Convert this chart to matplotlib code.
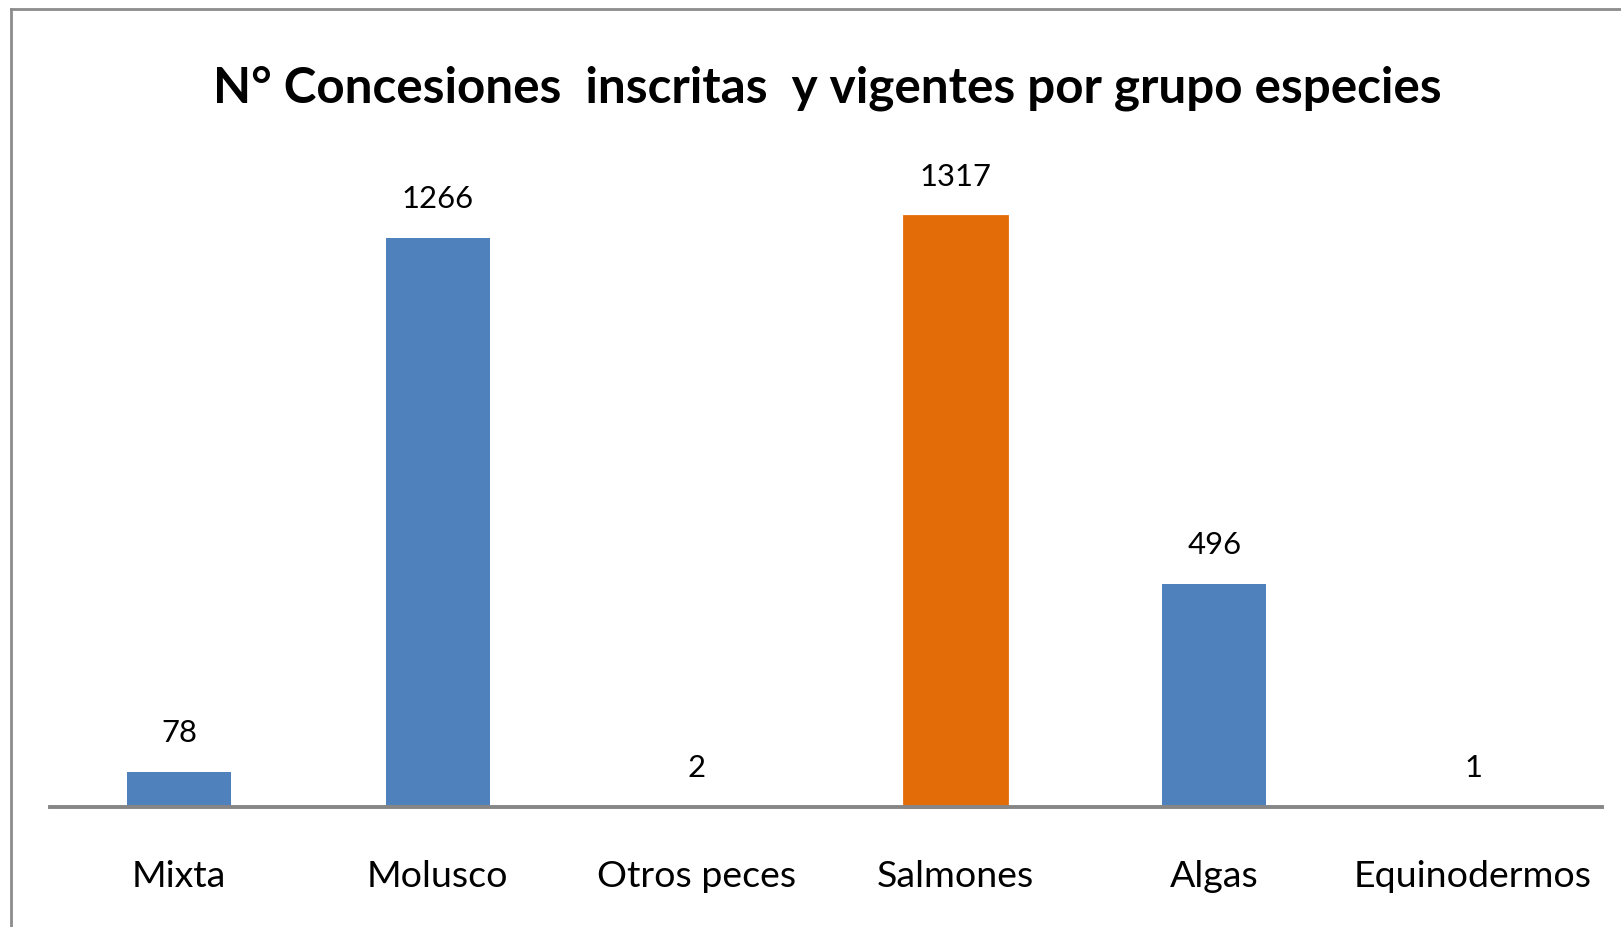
import matplotlib
matplotlib.use("Agg")
import matplotlib.pyplot as plt
from matplotlib import font_manager
from matplotlib.lines import Line2D

categories = ["Mixta", "Molusco", "Otros peces", "Salmones", "Algas", "Equinodermos"]
values = [78, 1266, 2, 1317, 496, 1]
bar_colors = ["#4F81BD", "#4F81BD", "#4F81BD", "#E36C09", "#4F81BD", "#4F81BD"]
title = "N° Concesiones  inscritas  y vigentes por grupo especies"

avail = {f.name for f in font_manager.fontManager.ttflist}
fam = None
for cand in ["Liberation Sans Narrow", "Lato", "DejaVu Sans"]:
    if cand in avail:
        fam = cand
        break

W, H = 1621, 927
fig = plt.figure(figsize=(W / 100, H / 100), dpi=100)
fig.patch.set_facecolor("white")

# outer frame (left and top visible)
fig.add_artist(Line2D([11 / W, 11 / W], [0, 1 - 9 / H], color="#8C8C8C", lw=2.0, transform=fig.transFigure))
fig.add_artist(Line2D([11 / W, 1], [1 - 9 / H, 1 - 9 / H], color="#8C8C8C", lw=2.0, transform=fig.transFigure))

base_y = 807.4
top_y = 100.0
left_x, right_x = 49.6, 1602.4
ax = fig.add_axes([left_x / W, (H - base_y) / H, (right_x - left_x) / W, (base_y - top_y) / H])
ax.set_xlim(-0.5, len(categories) - 0.5)
ax.set_ylim(0, (base_y - top_y) / 0.4494)

x = list(range(len(categories)))
bars = ax.bar(x, values, width=0.4, color=bar_colors, zorder=2)
bars[3].set_edgecolor("#E36C09")
bars[3].set_linewidth(2.0)
bars[3].set_clip_on(False)

for s in ["left", "right", "top"]:
    ax.spines[s].set_visible(False)
ax.spines["bottom"].set_color("#868686")
ax.spines["bottom"].set_linewidth(2.8)
ax.spines["bottom"].set_zorder(3)
ax.set_yticks([])
ax.set_xticks(x)
ax.set_xticklabels([])
ax.tick_params(axis="x", length=0)

renderer = fig.canvas.get_renderer()

def fit_size(text, target_px, weight="normal"):
    t = fig.text(0, 0, text, fontsize=20, family=fam, weight=weight)
    w = t.get_window_extent(renderer).width
    t.remove()
    return 20 * target_px / w

title_fs = fit_size(title, 1230, "bold")
tick_fs = fit_size("Equinodermos", 238)
lab_fs = fit_size("1266", 72)

fig.text(827 / W, 1 - 88 / H, title, ha="center", va="center", fontsize=title_fs,
         family=fam, weight="bold", color="black")

for xi, c in zip(x, categories):
    ax.annotate(c, (xi, 0), xycoords="data", xytext=(0, -69 * 0.72), textcoords="offset points",
                ha="center", va="center", fontsize=tick_fs, family=fam, color="black")

for xi, v in zip(x, values):
    ax.annotate(str(v), (xi, v), xycoords="data", xytext=(0, 39 * 0.72), textcoords="offset points",
                ha="center", va="center", fontsize=lab_fs, family=fam, color="black")

fig.savefig("out.png", dpi=100, facecolor="white")
